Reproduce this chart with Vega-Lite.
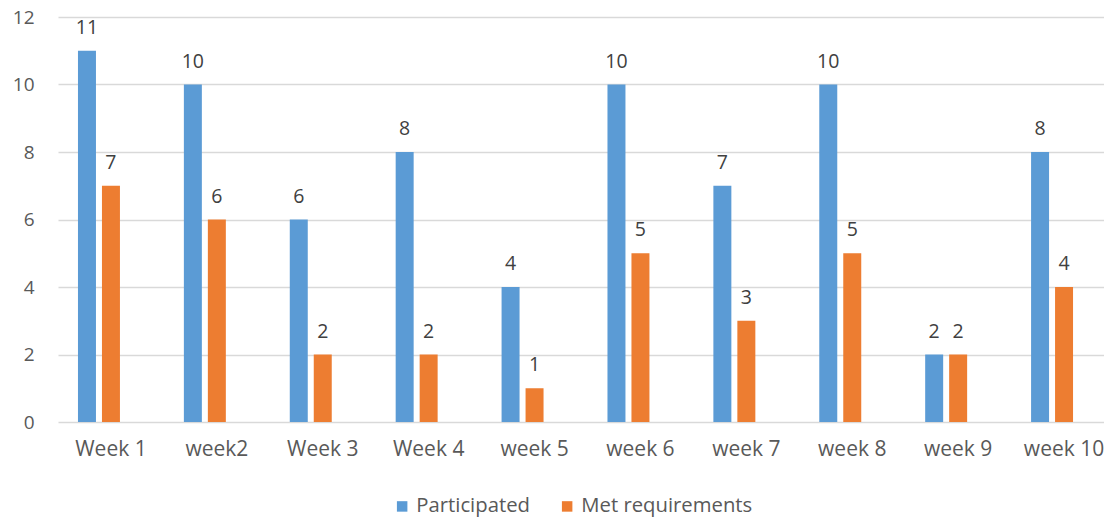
{
  "$schema": "https://vega.github.io/schema/vega-lite/v6.json",
  "autosize": {"type": "none"},
  "padding": {"left": 58, "top": 17, "right": 0, "bottom": 96},
  "width": 1046,
  "height": 405,
  "background": "white",
  "config": {
    "view": {"stroke": null},
    "font": "Open Sans",
    "axis": {"labelFont": "Open Sans", "labelColor": "#595959", "labelFontSize": 19}
  },
  "data": {
    "values": [
      {"week": "Week 1", "series": "Participated", "value": 11},
      {"week": "Week 1", "series": "Met requirements", "value": 7},
      {"week": "week2", "series": "Participated", "value": 10},
      {"week": "week2", "series": "Met requirements", "value": 6},
      {"week": "Week 3", "series": "Participated", "value": 6},
      {"week": "Week 3", "series": "Met requirements", "value": 2},
      {"week": "Week 4", "series": "Participated", "value": 8},
      {"week": "Week 4", "series": "Met requirements", "value": 2},
      {"week": "week 5", "series": "Participated", "value": 4},
      {"week": "week 5", "series": "Met requirements", "value": 1},
      {"week": "week 6", "series": "Participated", "value": 10},
      {"week": "week 6", "series": "Met requirements", "value": 5},
      {"week": "week 7", "series": "Participated", "value": 7},
      {"week": "week 7", "series": "Met requirements", "value": 3},
      {"week": "week 8", "series": "Participated", "value": 10},
      {"week": "week 8", "series": "Met requirements", "value": 5},
      {"week": "week 9", "series": "Participated", "value": 2},
      {"week": "week 9", "series": "Met requirements", "value": 2},
      {"week": "week 10", "series": "Participated", "value": 8},
      {"week": "week 10", "series": "Met requirements", "value": 4}
    ]
  },
  "encoding": {
    "x": {
      "field": "week", "type": "nominal", "sort": null,
      "scale": {"range": [0, 1059], "paddingInner": 0, "paddingOuter": 0},
      "axis": {"title": null, "labelAngle": 0, "ticks": false, "domain": false, "labelPadding": 16, "labelFontSize": 21}
    },
    "xOffset": {
      "field": "series", "type": "nominal",
      "scale": {"domain": ["Participated", "Met requirements", "blank"], "paddingInner": 0.25, "paddingOuter": 0.833}
    },
    "y": {
      "field": "value", "type": "quantitative",
      "scale": {"domain": [0, 12]},
      "axis": {"title": null, "values": [0, 2, 4, 6, 8, 10, 12], "labelOverlap": false, "ticks": false, "domain": false, "labelPadding": 24, "gridColor": "#D9D9D9", "gridWidth": 1.3}
    }
  },
  "layer": [
    {
      "mark": {"type": "bar"},
      "encoding": {
        "color": {
          "field": "series", "type": "nominal",
          "scale": {"domain": ["Participated", "Met requirements"], "range": ["#5B9BD5", "#ED7D31"]},
          "legend": {
            "title": null, "orient": "none", "direction": "horizontal",
            "legendX": 334, "legendY": 479,
            "symbolType": "square", "symbolSize": 110, "symbolStrokeWidth": 0,
            "labelFont": "Open Sans", "labelFontSize": 20.3, "labelColor": "#595959", "labelLimit": 400,
            "labelOffset": 4, "columnPadding": 27
          }
        }
      }
    },
    {
      "mark": {"type": "text", "baseline": "alphabetic", "dy": -17, "fontSize": 19.5, "color": "#404040", "font": "Open Sans"},
      "encoding": {"text": {"field": "value", "type": "quantitative"}}
    }
  ]
}
